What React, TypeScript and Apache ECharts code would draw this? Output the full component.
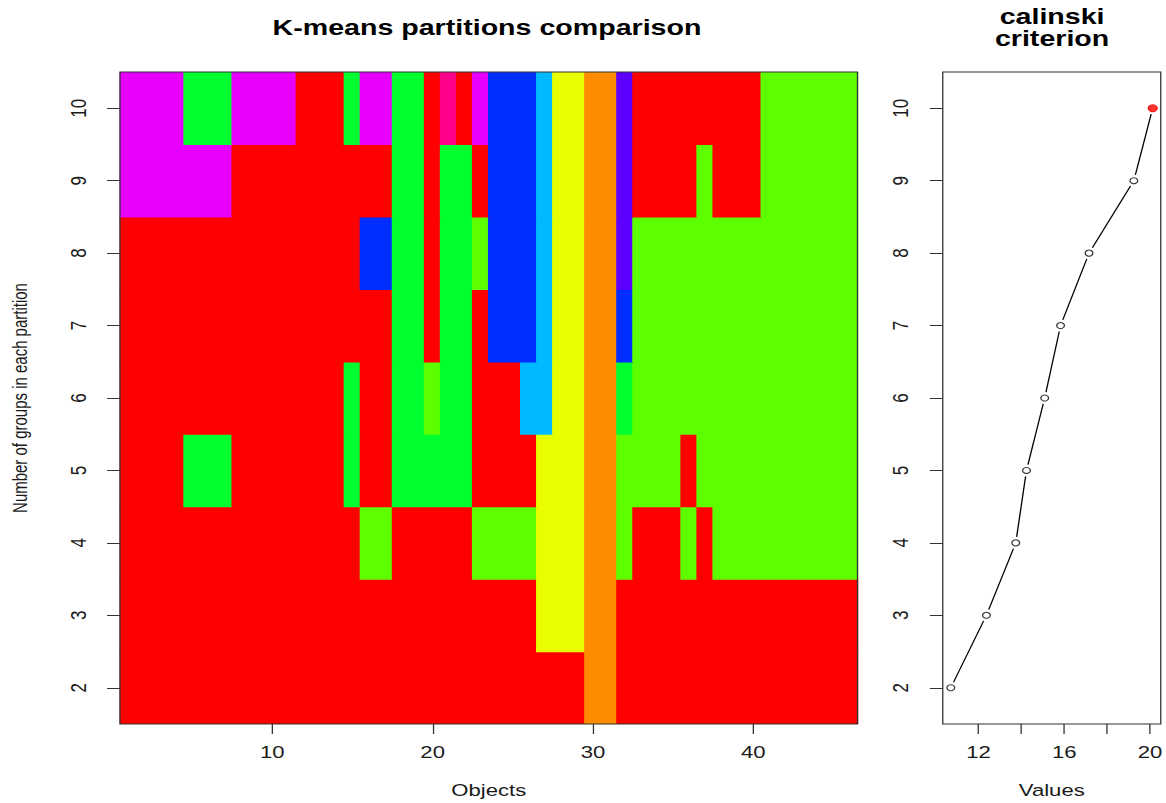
import React, { useEffect, useRef } from 'react';
import * as echarts from 'echarts';

// R rainbow(11) palette used by the partition plot
const palette = ['#FF0000', '#FF8B00', '#E8FF00', '#5DFF00', '#00FF2E', '#00FFB9', '#00B9FF', '#002EFF', '#5D00FF', '#E800FF', '#FF008B'];

// group counts (rows) and objects (columns)
const groupCounts = [2, 3, 4, 5, 6, 7, 8, 9, 10];
const objectCount = 46;

// colour index of each object in each partition
const part2 = [0,0,0,0,0,0,0,0,0,0,0,0,0,0,0,0,0,0,0,0,0,0,0,0,0,0,0,0,0,1,1,0,0,0,0,0,0,0,0,0,0,0,0,0,0,0];
const part3 = [0,0,0,0,0,0,0,0,0,0,0,0,0,0,0,0,0,0,0,0,0,0,0,0,0,0,2,2,2,1,1,0,0,0,0,0,0,0,0,0,0,0,0,0,0,0];
const part4 = [0,0,0,0,0,0,0,0,0,0,0,0,0,0,0,3,3,0,0,0,0,0,3,3,3,3,2,2,2,1,1,3,0,0,0,3,0,3,3,3,3,3,3,3,3,3];
const part5 = [0,0,0,0,4,4,4,0,0,0,0,0,0,0,4,0,0,4,4,4,4,4,0,0,0,0,2,2,2,1,1,3,3,3,3,0,3,3,3,3,3,3,3,3,3,3];
const part6 = [0,0,0,0,0,0,0,0,0,0,0,0,0,0,4,0,0,4,4,3,4,4,0,0,0,6,6,2,2,1,1,4,3,3,3,3,3,3,3,3,3,3,3,3,3,3];
const part7 = [0,0,0,0,0,0,0,0,0,0,0,0,0,0,0,0,0,4,4,0,4,4,0,7,7,7,6,2,2,1,1,7,3,3,3,3,3,3,3,3,3,3,3,3,3,3];
const part8 = [0,0,0,0,0,0,0,0,0,0,0,0,0,0,0,7,7,4,4,0,4,4,3,7,7,7,6,2,2,1,1,8,3,3,3,3,3,3,3,3,3,3,3,3,3,3];
const part9 = [9,9,9,9,9,9,9,0,0,0,0,0,0,0,0,0,0,4,4,0,4,4,0,7,7,7,6,2,2,1,1,8,0,0,0,0,3,0,0,0,3,3,3,3,3,3];
const part10 = [9,9,9,9,4,4,4,9,9,9,9,0,0,0,4,9,9,4,4,0,10,0,9,7,7,7,6,2,2,1,1,8,0,0,0,0,0,0,0,0,3,3,3,3,3,3];
const partitions = [part2, part3, part4, part5, part6, part7, part8, part9, part10];

// calinski criterion value for each group count
const calinskiValues = [10.71, 12.37, 13.74, 14.24, 15.09, 15.83, 17.16, 19.25, 20.13];

// tick values
const leftXTicks = [10, 20, 30, 40];
const yTicks = [2, 3, 4, 5, 6, 7, 8, 9, 10];
const rightXTicks = [12, 14, 16, 18, 20];
const rightXLabels = [12, 16, 20];

const STRETCH = 1.3;
const INNER_W = 1166 / STRETCH;
const FONT = '"Liberation Sans", Arial, sans-serif';
const TXT = '#1a1a1a';
const AX = '#333';

export default function App() {
  const ref = useRef<HTMLDivElement>(null);

  useEffect(() => {
    if (!ref.current) return;
    const chart = echarts.init(ref.current, null, { renderer: 'svg' });

    // one cell per object and partition, run-merged along each row
    const cells: number[][] = [];
    partitions.forEach((row, r) => {
      let start = 0;
      for (let i = 1; i <= row.length; i++) {
        if (i === row.length || row[i] !== row[start]) {
          cells.push([start + 1, i, groupCounts[r], row[start]]);
          start = i;
        }
      }
    });

    const vMin = Math.min(...calinskiValues);
    const vMax = Math.max(...calinskiValues);
    const span = vMax - vMin;
    const maxIdx = calinskiValues.indexOf(vMax);

    const segments = calinskiValues.slice(0, -1).map((v, i) => [v, groupCounts[i], calinskiValues[i + 1], groupCounts[i + 1]]);
    const points = calinskiValues.map((v, i) =>
      i === maxIdx
        ? { value: [v, groupCounts[i]], symbolSize: 7, itemStyle: { color: '#FF0000', borderColor: '#FF0000' } }
        : { value: [v, groupCounts[i]] }
    );

    const tickLabel = { fontSize: 17, color: TXT, fontFamily: FONT };
    const nameStyle = { fontSize: 17, color: TXT, fontFamily: FONT };

    const option: any = {
      animation: false,
      backgroundColor: '#ffffff',
      grid: [
        { left: 92.3, top: 72, width: 567.3, height: 658, show: true, borderColor: AX, borderWidth: 1, backgroundColor: 'transparent', z: 10 },
        { left: 725.2, top: 72, width: 168.3, height: 658, show: true, borderColor: AX, borderWidth: 1, backgroundColor: 'transparent', z: 10 },
      ],
      xAxis: [
        {
          type: 'value', gridIndex: 0, min: 0.5, max: objectCount + 0.5,
          axisLine: { show: false }, splitLine: { show: false },
          axisTick: { show: true, length: 10, customValues: leftXTicks, lineStyle: { color: AX } },
          axisLabel: { customValues: leftXTicks, margin: 19, ...tickLabel },
          name: 'Objects', nameLocation: 'middle', nameGap: 57, nameTextStyle: nameStyle,
        },
        {
          type: 'value', gridIndex: 1, min: vMin - 0.04 * span, max: vMax + 0.04 * span,
          axisLine: { show: false }, splitLine: { show: false },
          axisTick: { show: true, length: 10, customValues: rightXTicks, lineStyle: { color: AX } },
          axisLabel: { customValues: rightXLabels, margin: 19, ...tickLabel },
          name: 'Values', nameLocation: 'middle', nameGap: 57, nameTextStyle: nameStyle,
        },
      ],
      yAxis: [
        {
          type: 'value', gridIndex: 0, min: 1.5, max: 10.5,
          axisLine: { show: false }, splitLine: { show: false },
          axisTick: { show: true, length: 10, customValues: yTicks, lineStyle: { color: AX } },
          axisLabel: { customValues: yTicks, rotate: 90, margin: 24, ...tickLabel },
          name: 'Number of groups in each partition', nameLocation: 'middle', nameRotate: 90, nameGap: 69,
          nameTextStyle: { fontSize: 15, color: TXT, fontFamily: FONT },
        },
        {
          type: 'value', gridIndex: 1, min: 1.5, max: 10.5,
          axisLine: { show: false }, splitLine: { show: false },
          axisTick: { show: true, length: 10, customValues: yTicks, lineStyle: { color: AX } },
          axisLabel: { customValues: yTicks, rotate: 90, margin: 24, ...tickLabel },
        },
      ],
      graphic: [
        {
          type: 'text', x: 374.6, y: 27.4,
          style: { text: 'K-means partitions comparison', font: `bold 22px ${FONT}`, fill: '#000', textAlign: 'center', textVerticalAlign: 'middle', align: 'center', verticalAlign: 'middle' },
        },
        {
          type: 'text', x: 809.3, y: 27.2,
          style: { text: 'calinski\ncriterion', font: `bold 22px ${FONT}`, lineHeight: 22.5, fill: '#000', textAlign: 'center', textVerticalAlign: 'middle', align: 'center', verticalAlign: 'middle' },
        },
      ],
      series: [
        {
          type: 'custom', xAxisIndex: 0, yAxisIndex: 0, clip: true,
          encode: { x: [0, 1], y: 2 },
          data: cells,
          renderItem: (params: any, api: any) => {
            const x0 = api.value(0);
            const x1 = api.value(1);
            const y = api.value(2);
            const c = palette[api.value(3)];
            const p0 = api.coord([x0 - 0.5, y + 0.5]);
            const p1 = api.coord([x1 + 0.5, y - 0.5]);
            const pad = 0.6;
            return {
              type: 'rect',
              shape: { x: p0[0] - pad, y: p0[1] - pad, width: p1[0] - p0[0] + 2 * pad, height: p1[1] - p0[1] + 2 * pad },
              style: { fill: c },
            };
          },
        },
        {
          type: 'custom', xAxisIndex: 1, yAxisIndex: 1,
          encode: { x: [0, 2], y: [1, 3] },
          data: segments,
          renderItem: (params: any, api: any) => {
            const a = api.coord([api.value(0), api.value(1)]);
            const b = api.coord([api.value(2), api.value(3)]);
            const dx = b[0] - a[0];
            const dy = b[1] - a[1];
            const len = Math.sqrt(dx * dx + dy * dy) || 1;
            const gap = 6;
            const ux = dx / len;
            const uy = dy / len;
            return {
              type: 'line',
              shape: { x1: a[0] + ux * gap, y1: a[1] + uy * gap, x2: b[0] - ux * gap, y2: b[1] - uy * gap },
              style: { stroke: '#000', lineWidth: 1 },
            };
          },
        },
        {
          type: 'scatter', xAxisIndex: 1, yAxisIndex: 1,
          symbol: 'circle', symbolSize: 6,
          itemStyle: { color: '#ffffff', borderColor: '#000', borderWidth: 1 },
          data: points,
          z: 5,
        },
      ],
    };

    chart.setOption(option);
    return () => chart.dispose();
  }, []);

  return (
    <div style={{ position: 'absolute', left: 0, top: 0, width: 1166, height: 803, overflow: 'hidden', background: '#fff' }}>
      <div ref={ref} style={{ width: INNER_W, height: 803, transform: `scaleX(${STRETCH})`, transformOrigin: '0 0' }} />
    </div>
  );
}
